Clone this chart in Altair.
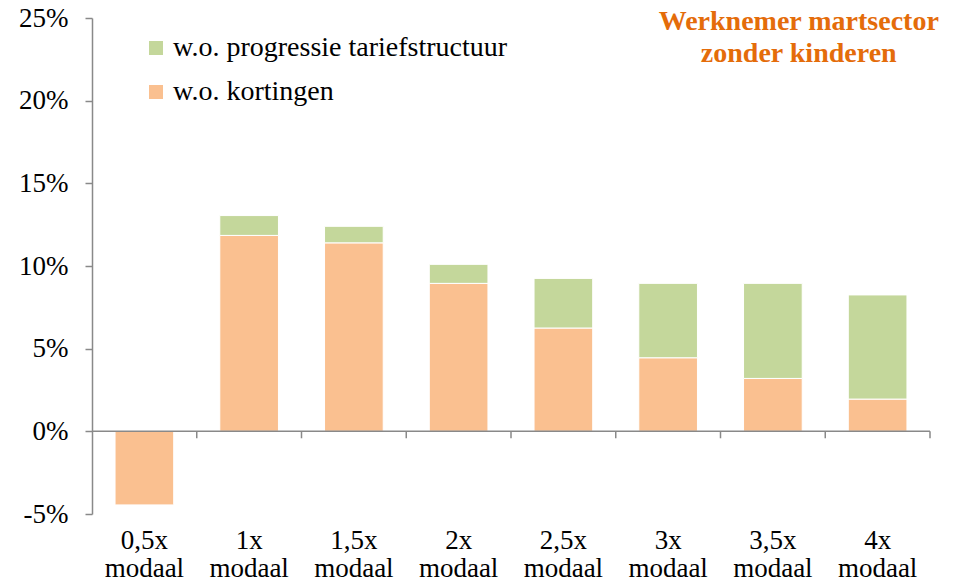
import altair as alt
import pandas as pd

categories = ["0,5x modaal", "1x modaal", "1,5x modaal", "2x modaal",
              "2,5x modaal", "3x modaal", "3,5x modaal", "4x modaal"]
kortingen = [-4.45, 11.85, 11.4, 8.95, 6.25, 4.45, 3.2, 1.95]
progressie = [0.0, 1.2, 1.0, 1.15, 3.0, 4.5, 5.75, 6.3]
series_names = ["w.o. progressie tariefstructuur", "w.o. kortingen"]
colors = ["#C4D79B", "#FAC090"]
y_ticks = [-5, 0, 5, 10, 15, 20, 25]
title_lines = ["Werknemer martsector", "zonder kinderen"]

rows = []
for c, k, p in zip(categories, kortingen, progressie):
    rows.append({"cat": c, "serie": series_names[1], "value": k, "order": 0})
    rows.append({"cat": c, "serie": series_names[0], "value": p, "order": 1})
df = pd.DataFrame(rows)
cat_df = pd.DataFrame({"cat": categories})
zero_df = pd.DataFrame({"z": [0]})

FONT = "Liberation Serif"
GRAY = "#898989"

bars = alt.Chart(df).mark_bar(stroke="white", strokeWidth=1).encode(
    x=alt.X("cat:N", sort=categories,
            scale=alt.Scale(paddingInner=0.44, paddingOuter=0.22),
            axis=alt.Axis(title=None, domain=False, ticks=False, labelAngle=0,
                          labelFont=FONT, labelFontSize=27, labelColor="black",
                          labelExpr="split(datum.label, ' ')",
                          labelLineHeight=28, labelPadding=13)),
    y=alt.Y("value:Q", stack="zero",
            scale=alt.Scale(domain=[-5, 25], nice=False),
            axis=alt.Axis(title=None, values=y_ticks, labelExpr="datum.value + '%'",
                          grid=False, domainColor=GRAY, domainWidth=1.5,
                          tickColor=GRAY, tickWidth=1.5, tickSize=7,
                          labelFont=FONT, labelFontSize=27, labelColor="black",
                          labelPadding=17)),
    color=alt.Color("serie:N",
                    scale=alt.Scale(domain=series_names, range=colors),
                    legend=alt.Legend(title=None, orient="none", legendX=50, legendY=16,
                                      padding=0, symbolType="square", symbolSize=196,
                                      symbolStrokeWidth=0, labelFont=FONT,
                                      labelFontSize=28, labelColor="black",
                                      labelOffset=3, rowPadding=16, labelLimit=600)),
    order=alt.Order("order:Q"),
)

zero_line = alt.Chart(zero_df).mark_rule(color=GRAY, strokeWidth=1.5).encode(
    y=alt.Y("z:Q")
)

ticks = alt.Chart(cat_df).mark_rule(color=GRAY, strokeWidth=1.5).encode(
    x=alt.X("cat:N", sort=categories, bandPosition=1,
            scale=alt.Scale(paddingInner=0, paddingOuter=0), axis=None),
    y=alt.datum(0),
    y2=alt.datum(-0.42),
)

chart = alt.layer(bars, zero_line, ticks).resolve_scale(x="independent").properties(
    width=838, height=496,
    autosize="none",
    padding={"left": 84, "top": 10, "right": 24, "bottom": 72},
    title=alt.TitleParams(text=title_lines, anchor="end", align="center", dx=-132, dy=64,
                          font=FONT, fontSize=28, fontWeight="bold", color="#E46C0A",
                          lineHeight=32, offset=0, baseline="top"),
).configure(font=FONT).configure_view(stroke=None)

chart.save("out.html", embed_options={"renderer": "svg", "actions": False})
